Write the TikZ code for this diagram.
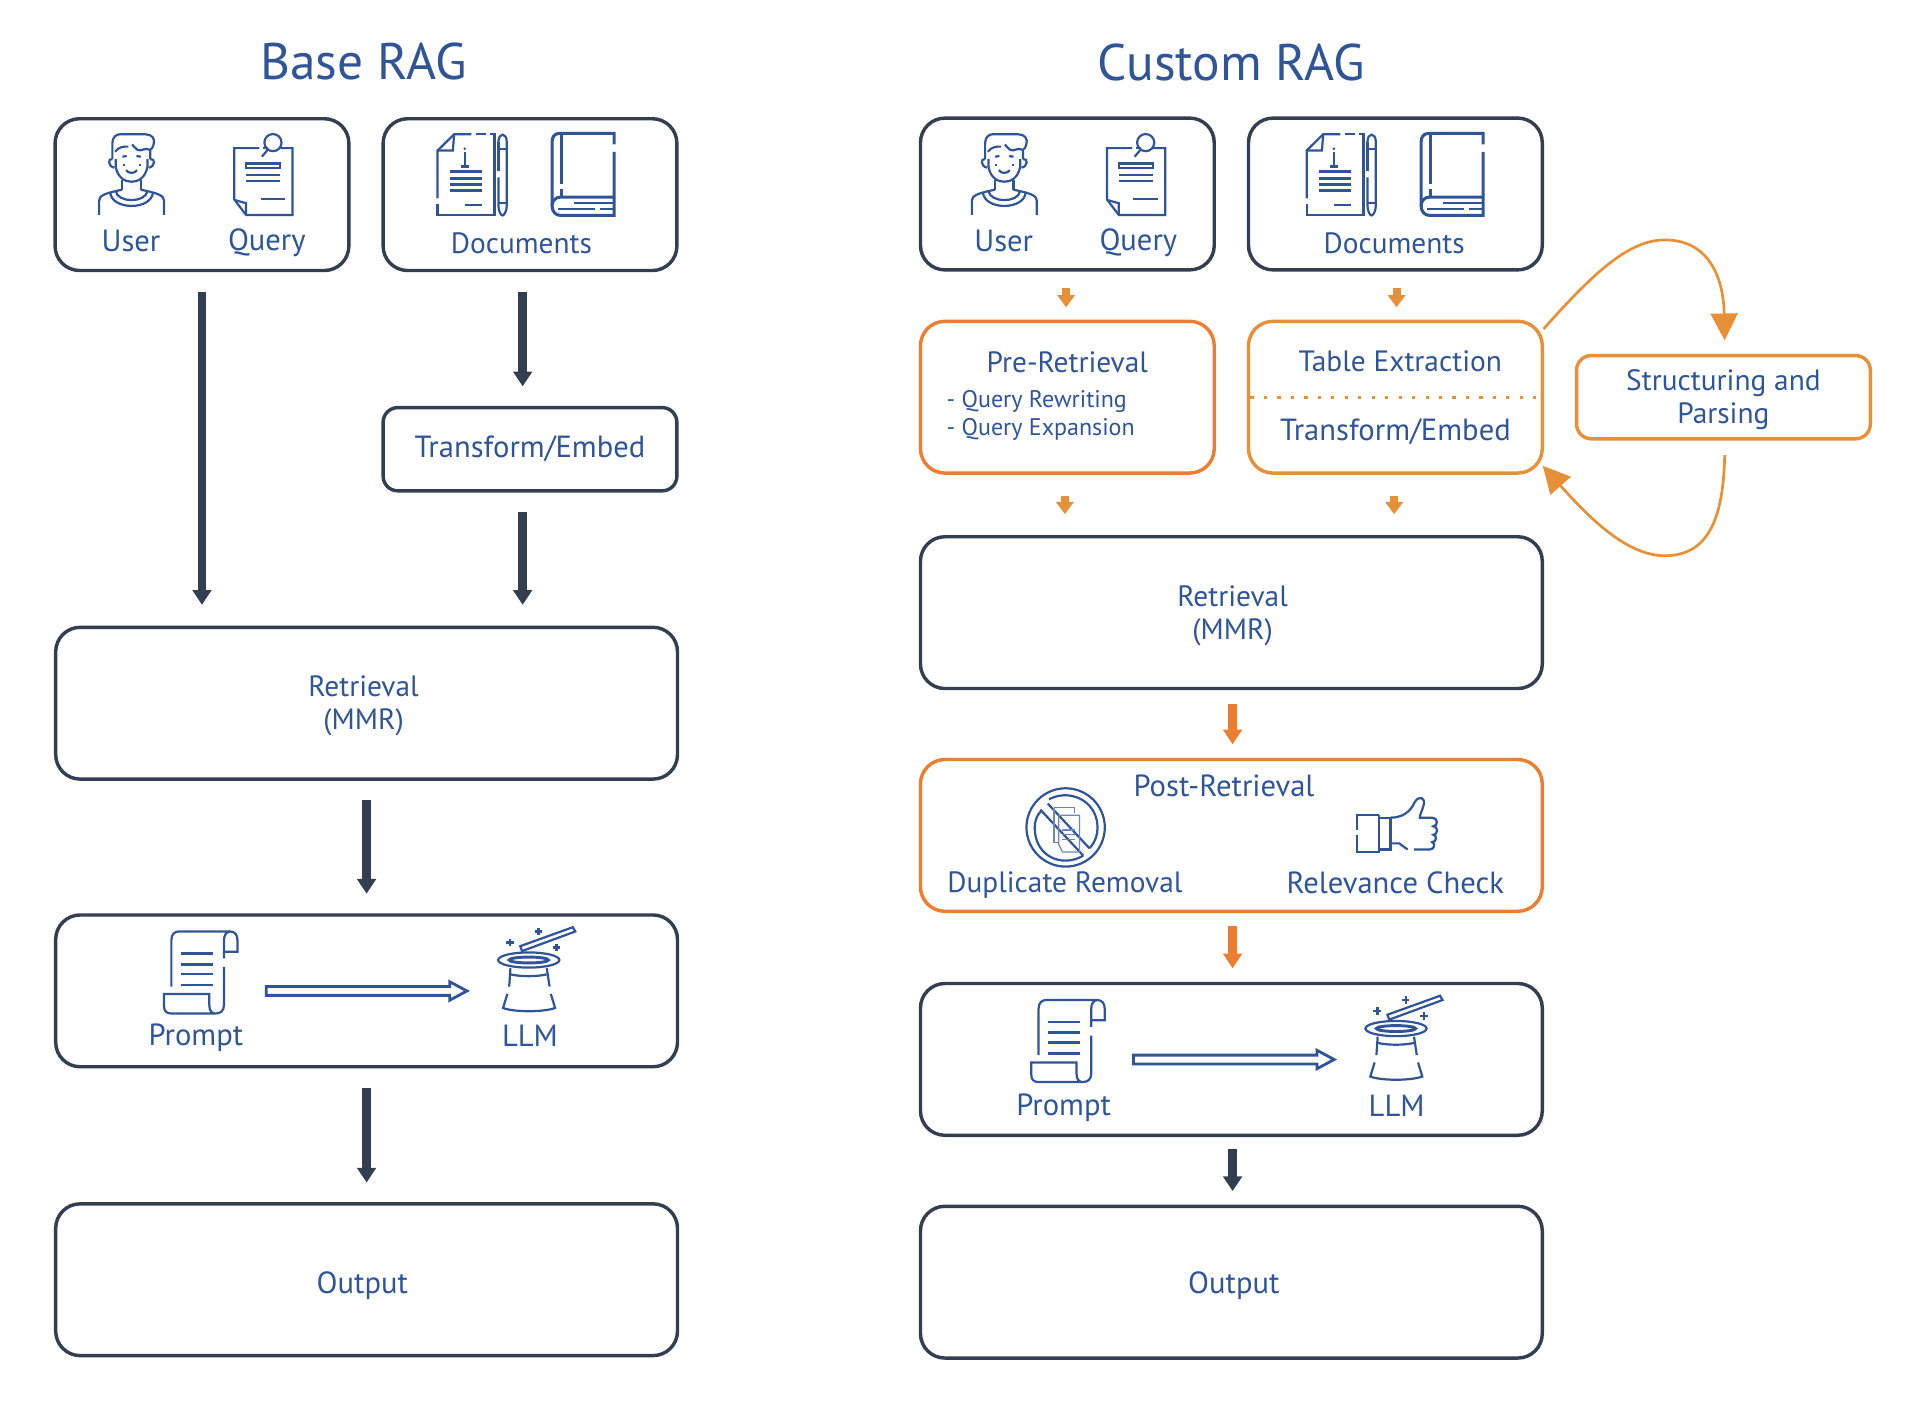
\documentclass[tikz,border=0pt]{standalone}
\usepackage{fontspec}
\setmainfont{PT Sans}
\usetikzlibrary{arrows.meta}
\definecolor{dk}{HTML}{333F50}
\definecolor{bl}{HTML}{2F5597}
\definecolor{orb}{HTML}{ED7D31}
\definecolor{orl}{HTML}{E69138}
\tikzset{
  x=0.5pt,y=-0.5pt,
  box/.style={draw=dk,line width=1.4pt,rounded corners=10pt,minimum width=#1,inner sep=0pt},
  box/.default=120pt,
  obox/.style={box=#1,draw=orb},
  obox/.default=120pt,
  lbox/.style={box=#1,draw=orl},
  lbox/.default=120pt,
  txt/.style={text=bl,font=\fontsize{12.5}{13.5}\selectfont,align=center,inner sep=0pt},
  txtn/.style={text=bl,font=\fontsize{12}{13.5}\selectfont,align=center,inner sep=0pt},
  smalltxt/.style={text=bl,font=\fontsize{9.8}{11.5}\selectfont,align=left,inner sep=0pt},
  ttl/.style={text=bl,font=\fontsize{21}{24}\selectfont,inner sep=0pt},
  bigarrow/.style={draw=dk,line width=3.5pt,-{Triangle[length=6pt,width=7.5pt]}},
  oarrow/.style={draw=orb,line width=3.5pt,-{Triangle[length=6pt,width=7.5pt]}},
  sarrow/.style={draw=orl,line width=3.3pt,-{Triangle[length=5pt,width=7pt]}},
  loop/.style={draw=orl,line width=1.1pt,-{Triangle[length=11pt,width=11pt]}},
  ic/.style={draw=bl,line width=0.9pt},
  icb/.style={draw=bl,line width=1.25pt},
  icf/.style={draw=bl!70,line width=0.5pt},
  hollow/.style={draw=bl,line width=1.15pt,miter limit=4},
}
\newcommand{\IUser}{%
 \draw[ic] (94.5,130)--(94.5,136) .. controls (96,145) and (102,148.5) .. (107.5,148.5) .. controls (113,148.5) and (119,145) .. (120.5,136)--(120.5,130);
 \draw[ic] (91.8,130)--(91.8,117) .. controls (91.8,112) and (95,109.7) .. (98,109.7)--(118.6,109.7) .. controls (124,109.7) and (127,113) .. (125.5,118) .. controls (125,120) and (124,122) .. (122.7,122.5)--(122.7,130);
 \draw[ic] (122.7,122.5) .. controls (118,120) and (116,124) .. (112.4,122.5) .. controls (110,121) and (109,119) .. (108,118);
 \draw[ic] (94,124) .. controls (97,120) and (101,119.5) .. (104.8,119.8);
 \draw[ic] (91.8,130) .. controls (88,129) and (88,136) .. (93.5,137);
 \draw[ic] (122.7,130) .. controls (127,129) and (127,136) .. (121.5,137);
 \draw[ic] (100,128)--(103.5,127.5) (111.5,127.5)--(115,128);
 \draw[ic] (101,134)--(101,136) (114.5,134)--(114.5,136);
 \draw[ic] (103,139) .. controls (105,142) and (110,142) .. (112,139);
 \draw[ic] (99.7,147)--(99.7,155) (115,147)--(115,155);
 \draw[ic] (81,175.6)--(81,164) .. controls (81,160) and (85,158) .. (99.7,155);
 \draw[ic] (134,175.6)--(134,164) .. controls (134,160) and (130,158) .. (115,155);
 \draw[ic] (90,157) .. controls (91,172) and (124,172) .. (125,157);
 \draw[ic] (94.5,156) .. controls (96,166) and (119,166) .. (120.5,156);
}
\newcommand{\IQuery}{%
 \draw[ic] (212,121)--(191.4,121)--(191.4,163)--(201,175.6)--(238.9,175.6)--(238.9,121)--(229,121);
 \draw[ic] (215,121)--(219,121);
 \draw[ic] (192,163.5)--(201,166)--(201,175.6);
 \draw[ic] (223,116.5) circle [radius=7];
 \draw[ic] (214,128)--(219,122);
 \draw[ic] (201,133.5)--(229,133.5)--(229,137.5)--(201,137.5)--cycle;
 \draw[ic] (201,143)--(229,143) (201,147.6)--(229,147.6) (213,162.8)--(232.7,162.8);
}
\newcommand{\IDocs}{%
 \draw[ic] (357.5,123)--(371,109.7)--(385,109.7);
 \draw[ic] (389,109.7)--(397,109.7) (400,109.7)--(404,109.7)--(404,175.6)--(357.5,175.6)--(357.5,167);
 \draw[ic] (357.5,162)--(357.5,123)--(370,123)--(371,109.7);
 \draw[ic] (379.7,124)--(379.7,135) (376.5,136)--(383,136);
 \fill[bl] (379.7,121.5) circle [radius=1.2];
 \draw[ic,line width=1.1pt] (367.7,140.2)--(393.5,140.2) (367.7,145.7)--(393.5,145.7) (367.7,150.6)--(393.5,150.6) (367.7,155.8)--(393.5,155.8);
 \draw[ic,line width=1.2pt] (379.7,167.5)--(393.5,167.5);
 \draw[ic] (407.2,116) .. controls (407.2,108) and (414,108) .. (414,116)--(414,168) .. controls (414,172) and (412,176) .. (410.6,176) .. controls (409,176) and (407.2,172) .. (407.2,168)--(407.2,145);
 \draw[ic] (407.2,140)--(407.2,116) (407.2,122)--(414,122) (407.2,166)--(414,166);
 \draw[icb] (501.7,118)--(501.7,109)--(457,109) .. controls (453,109) and (451,112) .. (451,116)--(451,168) .. controls (451,173) and (454,176) .. (458,176)--(501.7,176)--(501.7,124);
 \draw[icb] (458.8,109)--(458.8,150) (458.8,154)--(458.8,161);
 \draw[icb] (501.7,161)--(458,161) .. controls (454,161) and (451,164) .. (451,168);
 \draw[ic] (456,170.5)--(486,170.5) (490,170.5)--(501.7,170.5) (469,166)--(501.7,166);
}
\newcommand{\IPrompt}{%
 \draw[ic] (140,806)--(140,768) .. controls (140,763) and (143,761) .. (146,761)--(188,761) .. controls (192,761) and (194,764) .. (194,768)--(194,777.5)--(183,777.5);
 \draw[ic] (188,761) .. controls (185,761) and (183,764) .. (183,768)--(183,783) (183,790)--(183,821) .. controls (183,826) and (180,828) .. (176,828)--(140,828) .. controls (136,828) and (134,826) .. (134,822)--(134,812)--(171,812)--(171,821) .. controls (171,826) and (173,828) .. (176,828);
 \draw[ic] (148,779)--(174,779) (148,795.7)--(174,795.7) (148,804.7)--(174,804.7);
 \draw[ic,line width=1.2pt] (148,787.6)--(174,787.6);
}
\newcommand{\IHat}{%
 \draw[ic] (432,784.3) ellipse [x radius=25,y radius=6.2];
 \draw[ic,line width=1.2pt] (432,784.3) ellipse [x radius=16,y radius=2.4];
 \draw[ic] (417,791)--(416,806) (414.5,812)--(411,823.5) .. controls (420,827) and (444,827) .. (453.5,823.5)--(450,812) (449,806)--(446.7,791);
 \draw[ic] (417,796) .. controls (425,798) and (439,798) .. (446.7,796);
 \draw[ic] (425,773)--(468,757.5)--(470,761)--(426.5,777)--cycle;
 \draw[ic] (413.5,770)--(420,770) (416.8,767)--(416.8,773);
 \draw[ic] (436.7,761)--(443,761) (439.9,758)--(439.9,764);
 \draw[ic] (451.5,774)--(457.8,774) (454.6,771)--(454.6,777);
}
\newcommand{\IDup}{%
 \draw[ic] (870.6,676) circle [radius=32];
 \draw[ic] (857,653) .. controls (872,645) and (892,652) .. (896,670) .. controls (898,680) and (895,688) .. (890,693);
 \draw[ic] (885,699) .. controls (870,708) and (850,702) .. (846,683) .. controls (844,672) and (847,666) .. (851,662);
 \draw[ic] (850,661.5)--(885,699) (856,656.5)--(890,693);
 \draw[icf] (861,660)--(878,660)--(878,664) (861,660)--(861,688)--(865,688);
 \draw[icf] (865,666)--(882,666)--(882,696)--(868,696)--(865,690)--cycle;
 \draw[icf] (868,678)--(878,678) (868,682)--(878,682) (868,686)--(878,686);
}
\newcommand{\IThumb}{%
 \draw[ic] (1126.6,665.8)--(1108.7,665.8)--(1108.7,678) (1108.7,682)--(1108.7,695.8)--(1126.6,695.8)--(1126.6,665.8);
 \draw[ic] (1126.6,668)--(1136,668)--(1136,694)--(1126.6,694);
 \draw[ic] (1136,668) .. controls (1145,668) and (1152,664) .. (1156,655) .. controls (1159,650) and (1165,651) .. (1163,658) .. controls (1162,662) and (1160,665) .. (1160,668)--(1170,668) .. controls (1175,668) and (1175,675) .. (1171,675) .. controls (1175,675) and (1175,682) .. (1171,682) .. controls (1174,682) and (1174,688) .. (1170,688) .. controls (1173,689) and (1172,694) .. (1168,694)--(1155,694);
 \draw[ic] (1150,694)--(1143,689)--(1136,689);
}
\newcommand{\HollowArrow}[2]{%
 \draw[hollow] ([shift={(0,-3.6)}]#1) -- ([shift={(-14,-3.6)}]#2) -- ([shift={(-14,-7.5)}]#2) -- (#2) -- ([shift={(-14,7.5)}]#2) -- ([shift={(-14,3.6)}]#2) -- ([shift={(0,3.6)}]#1) -- cycle;
}
\begin{document}
\begin{tikzpicture}
\useasboundingbox (0,0) rectangle (1568.6,1145.5);
% Base RAG
\node[ttl] (t1) at (297,50) {Base RAG};
\node[box,minimum height=62pt] (a1) at (165,159) {};
\node[box,minimum height=62pt] (b1) at (433,159) {};
\node[box,minimum height=34pt,rounded corners=6pt] (c1) at (433,367) {};
\node[txt] (c1t) at (433,367) {Transform/Embed};
\node[box=254pt,minimum height=62pt] (r1) at (299.5,574.5) {};
\node[txtn] (r1t) at (297,576.5) {Retrieval\\(MMR)};
\node[box=254pt,minimum height=62pt] (p1) at (299.5,809.5) {};
\node[box=254pt,minimum height=62pt] (o1) at (299.5,1045.5) {};
\node[txt] (o1t) at (296,1050.5) {Output};
\node[txt] (u1) at (107,197) {User};
\node[txt] (q1) at (218,198) {Query};
\node[txtn] (d1) at (426,199) {Documents};
\node[txt] (pr1) at (160,848) {Prompt};
\node[txt] (l1) at (433,846) {LLM};
\draw[bigarrow] ([shift={(0,16)}]a1.south) -- ([shift={(0,-17)}]r1.north -| a1.south);
\draw[bigarrow] ([shift={(-6,16)}]b1.south) -- ([shift={(-6,-16)}]c1.north);
\draw[bigarrow] ([shift={(-6,16)}]c1.south) -- ([shift={(-6,-17)}]r1.north -| c1.south);
\draw[bigarrow] ([shift={(0,16)}]r1.south) -- ([shift={(0,-16)}]p1.north);
\draw[bigarrow] ([shift={(0,16)}]p1.south) -- ([shift={(0,-16)}]o1.north);
\coordinate (ia1) at (217.5,809.6);
\coordinate (ib1) at (381.5,809.6);
\HollowArrow{ia1}{ib1}
\IUser \IQuery \IDocs \IPrompt \IHat
% Custom RAG
\node[ttl] (t2) at (1006,51) {Custom RAG};
\node[box,minimum height=62pt] (a2) at (872,158.5) {};
\node[box,minimum height=62pt] (b2) at (1140,158.5) {};
\node[obox,minimum height=62pt] (pre) at (872,324.5) {};
\node[lbox,minimum height=62pt] (tab) at (1140,324.5) {};
\node[lbox,minimum height=34pt,rounded corners=6pt] (st) at (1408,324.5) {};
\node[txtn] (stt) at (1408,326.5) {Structuring and\\Parsing};
\node[box=254pt,minimum height=62pt] (r2) at (1006,500.5) {};
\node[txtn] (r2t) at (1007,503.5) {Retrieval\\(MMR)};
\node[obox=254pt,minimum height=62pt] (post) at (1006,682.5) {};
\node[box=254pt,minimum height=62pt] (p2) at (1006,865.5) {};
\node[box=254pt,minimum height=62pt] (o2) at (1006,1047.5) {};
\node[txt] (o2t) at (1008,1050.5) {Output};
\node[txt] (u2) at (820,197) {User};
\node[txt] (q2) at (930,198) {Query};
\node[txtn] (d2) at (1139,199) {Documents};
\node[txtn] (pre1) at (872,296) {Pre-Retrieval};
\node[smalltxt,anchor=west] (pre2) at (773,328) {- Query Rewriting};
\node[smalltxt,anchor=west] (pre3) at (773,351) {- Query Expansion};
\node[txtn] (tb1) at (1144,295) {Table Extraction};
\node[txt] (tb2) at (1140,353) {Transform/Embed};
\node[txt] (po) at (1000,642) {Post-Retrieval};
\node[txtn] (du) at (870,723) {Duplicate Removal};
\node[txt] (rl) at (1140,721) {Relevance Check};
\node[txt] (pr2) at (869,905) {Prompt};
\node[txt] (l2) at (1141,903) {LLM};
\draw[draw=orl,line width=1.2pt,dash pattern=on 1.3pt off 4.2pt] ([xshift=1.5pt]tab.west) -- (tab.east);
\draw[sarrow] ([shift={(-1,13)}]a2.south) -- ([shift={(-1,-10)}]pre.north);
\draw[sarrow] ([shift={(1,13)}]b2.south) -- ([shift={(1,-10)}]tab.north);
\draw[sarrow] ([shift={(-2,17)}]pre.south) -- ([shift={(-2,-17)}]r2.north -| pre.south);
\draw[sarrow] ([shift={(-1,17)}]tab.south) -- ([shift={(-1,-17)}]r2.north -| tab.south);
\draw[oarrow] ([shift={(1,11)}]r2.south) -- ([shift={(1,-11)}]post.north);
\draw[oarrow] ([shift={(1,11)}]post.south) -- ([shift={(1,-11)}]p2.north);
\draw[bigarrow] ([shift={(1,10)}]p2.south) -- ([shift={(1,-11)}]o2.north);
\coordinate (la) at ([shift={(-0.3,-55.8)}]tab.east);
\coordinate (lb) at ([shift={(1,-11)}]st.north);
\coordinate (lc) at ([shift={(1,12)}]st.south);
\coordinate (ld) at ([shift={(-1,56)}]tab.east);
\draw[loop] (la) .. controls (1300,225) and (1330,196) .. (1360,196) .. controls (1395,196) and (1408,225) .. (lb);
\draw[loop] (lc) .. controls (1408,425) and (1395,454) .. (1360,454) .. controls (1330,454) and (1300,425) .. (ld);
\coordinate (ia2) at (926,865.6);
\coordinate (ib2) at (1090,865.6);
\HollowArrow{ia2}{ib2}
\begin{scope}[shift={(713,0)}]\IUser \IQuery\end{scope}
\begin{scope}[shift={(710,0)}]\IDocs\end{scope}
\begin{scope}[shift={(708.5,56)}]\IPrompt \IHat\end{scope}
\IDup \IThumb
\end{tikzpicture}
\end{document}
